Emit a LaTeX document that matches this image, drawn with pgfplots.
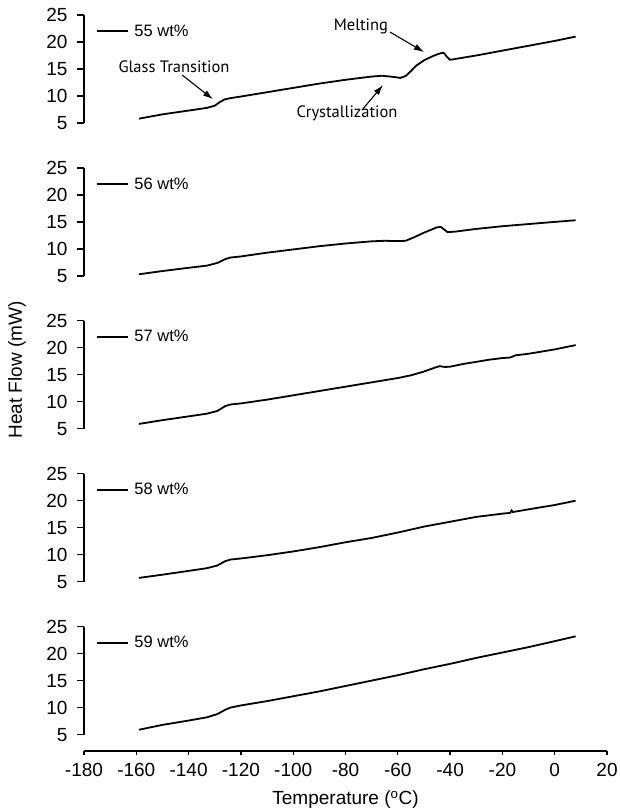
\documentclass[border=0pt]{standalone}
\usepackage{pgfplots}
\pgfplotsset{compat=1.18}
\usepackage{fontspec}
\setmainfont{Liberation Sans}
\newfontfamily\annfont{PT Sans}
\usetikzlibrary{arrows.meta}

\tikzset{
 ann/.style={font=\annfont\fontsize{16.5}{16.5}\selectfont},
 arr/.style={line width=1.1pt,-{Latex[length=10pt,width=6.5pt]}},
}
\pgfplotsset{
 panel/.style={
   width=523pt, height=108pt, scale only axis,
   xmin=-180, xmax=20, ymin=5, ymax=25,
   axis x line=none, axis y line=left,
   y axis line style={-, line width=1.3pt},
   ytick={5,10,15,20,25},
   tick align=outside, major tick length=7pt,
   every tick/.style={black, line width=1.3pt},
   yticklabel style={font=\fontsize{19}{19}\selectfont, xshift=-6pt},
   /pgf/number format/assume math mode=true,
   anchor=south west,
   clip=false,
   legend style={at={(axis cs:-175.5,22)}, anchor=west, draw=none, fill=none, inner sep=0pt,
     font=\fontsize{16.5}{16.5}\selectfont, nodes={inner sep=0pt}, column sep=6pt},
   legend image code/.code={\draw[line width=1.5pt] (0pt,0pt) -- (31pt,0pt);},
 },
 curve/.style={black, line width=1.8pt, no markers},
}

\begin{document}
\begin{tikzpicture}
\path[use as bounding box] (0,0) rectangle (619pt,811pt);

% 55 wt%
\begin{axis}[panel, at={(84pt,688pt)}]
\addplot[curve] coordinates {
(-159,5.8) (-150,6.6) (-140,7.3) (-133,7.8) (-130,8.2) (-128,8.9) (-126,9.4) (-124,9.6)
(-120,9.9) (-110,10.7) (-100,11.5) (-90,12.3) (-80,13.0) (-70,13.6) (-66,13.75) (-62,13.55)
(-59,13.35) (-57,13.7) (-55,14.6) (-53,15.6) (-50,16.6) (-47,17.3) (-45,17.7) (-43,18.0)
(-42.2,17.9) (-41.3,17.3) (-40,16.7) (-30,17.5) (-20,18.4) (-10,19.3) (0,20.2) (8,21.0)};
\addlegendentry{55 wt\%}
\node[ann] at (axis cs:-145.6,15.4) {Glass Transition};
\draw[arr] (axis cs:-142.5,13.9) -- (axis cs:-130.7,9.4);
\node[ann] at (axis cs:-74.1,22.8) {Melting};
\draw[arr] (axis cs:-63,21.85) -- (axis cs:-50,18.15);
\node[ann] at (axis cs:-79.4,6.85) {Crystallization};
\draw[arr] (axis cs:-73.7,7.4) -- (axis cs:-65.7,12.0);
\end{axis}

% 56 wt%
\begin{axis}[panel, at={(84pt,535.1pt)}]
\addplot[curve] coordinates {
(-159,5.3) (-150,5.9) (-140,6.5) (-133,6.9) (-129,7.4) (-126,8.1) (-124,8.4) (-120,8.6)
(-110,9.3) (-100,9.9) (-90,10.5) (-80,11.0) (-70,11.4) (-65,11.5) (-60,11.45) (-57,11.5)
(-54,12.1) (-50,13.0) (-47,13.6) (-45,14.0) (-43.5,14.05) (-42,13.5) (-41,13.1) (-38,13.2)
(-30,13.7) (-20,14.2) (-10,14.6) (0,15.0) (8,15.3)};
\addlegendentry{56 wt\%}
\end{axis}

% 57 wt%
\begin{axis}[panel, at={(84pt,382.2pt)}]
\addplot[curve] coordinates {
(-159,5.9) (-150,6.6) (-140,7.3) (-133,7.8) (-129,8.3) (-126,9.2) (-124,9.5) (-120,9.7)
(-110,10.4) (-100,11.2) (-90,12.0) (-80,12.8) (-70,13.6) (-60,14.4) (-55,14.9) (-50,15.6)
(-46,16.3) (-44,16.6) (-42,16.45) (-40,16.5) (-35,17.0) (-30,17.4) (-25,17.8) (-20,18.1)
(-17,18.2) (-15,18.6) (-10,18.9) (0,19.7) (8,20.5)};
\addlegendentry{57 wt\%}
\end{axis}

% 58 wt%
\begin{axis}[panel, at={(84pt,229.3pt)}]
\addplot[curve] coordinates {
(-159,5.7) (-150,6.3) (-140,7.0) (-133,7.5) (-129,8.0) (-126,8.8) (-124,9.1) (-120,9.3)
(-110,9.9) (-100,10.6) (-90,11.4) (-80,12.3) (-70,13.1) (-60,14.1) (-50,15.2) (-40,16.1)
(-30,17.0) (-20,17.6) (-17,17.75) (-16.5,18.2) (-16,17.9) (-10,18.4) (0,19.2) (8,20.0)};
\addlegendentry{58 wt\%}
\end{axis}

% 59 wt%
\begin{axis}[panel, at={(84pt,76.4pt)}]
\addplot[curve] coordinates {
(-159,5.9) (-150,6.8) (-140,7.6) (-133,8.2) (-129,8.8) (-126,9.6) (-124,10.0) (-120,10.4)
(-110,11.2) (-100,12.1) (-90,13.0) (-80,14.0) (-70,15.0) (-60,16.0) (-50,17.1) (-40,18.1)
(-30,19.2) (-20,20.2) (-10,21.2) (0,22.3) (8,23.2)};
\addlegendentry{59 wt\%}
\end{axis}

% bottom x axis
\begin{axis}[
   width=523pt, height=1pt, scale only axis,
   at={(84pt,60pt)}, anchor=south west,
   xmin=-180, xmax=20, ymin=0, ymax=1,
   axis x line=bottom, axis y line=none,
   x axis line style={-, line width=1.3pt},
   xtick={-180,-160,...,20},
   tick align=outside, major tick length=4.5pt,
   every tick/.style={black, line width=1.3pt},
   xticklabel style={font=\fontsize{19}{19}\selectfont, yshift=-4pt},
   /pgf/number format/assume math mode=true,
]
\addplot[draw=none] coordinates {(-180,0) (20,0)};
\end{axis}

\node[font=\fontsize{19}{19}\selectfont] at (345.5pt,11pt) {Temperature (\textsuperscript{o}C)};
\node[font=\fontsize{19}{19}\selectfont, rotate=90] at (17pt,441pt) {Heat Flow (mW)};
\end{tikzpicture}
\end{document}
